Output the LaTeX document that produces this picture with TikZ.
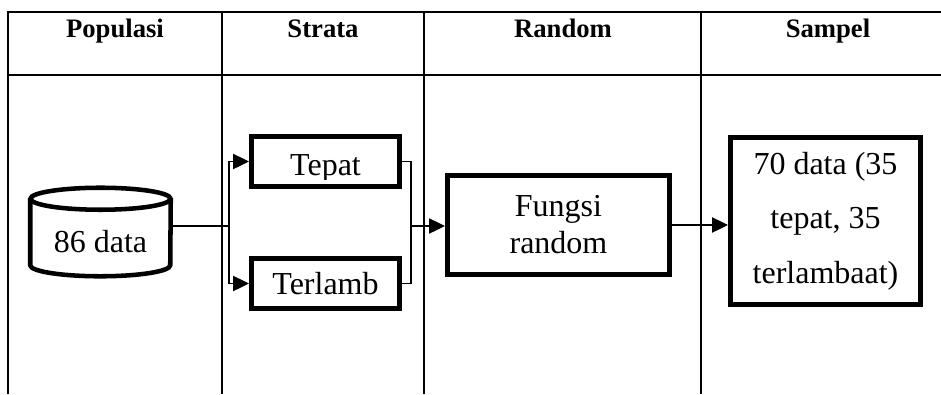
\documentclass[tikz,border=0pt]{standalone}
\usepackage{fontspec}
\setmainfont{Liberation Serif}
\usetikzlibrary{arrows.meta,positioning,calc}

\begin{document}
\begin{tikzpicture}[
    x=0.75pt, y=-0.75pt,
    gridline/.style={line width=1.3pt, black},
    headlbl/.style={font=\bfseries\fontsize{20}{24}\selectfont, anchor=base, inner sep=0pt},
    bodylbl/.style={font=\fontsize{24}{28}\selectfont, anchor=base, inner sep=0pt},
    dbline/.style={line width=3.4pt},
    stratabox/.style={rectangle, draw, line width=3.75pt, font=\fontsize{24}{28}\selectfont,
                      minimum width=111pt, minimum height=37.5pt, inner sep=0pt},
    procbox/.style={rectangle, draw, line width=3.75pt, align=center, inner sep=0pt},
    link/.style={line width=0.9pt},
    >={Triangle[length=12pt,width=11.5pt]}
  ]
    \useasboundingbox (0,0) rectangle (941,394);

    % --- Table grid ---
    \draw[gridline] (8,394) -- (8,12) -- (941,12);
    \draw[gridline] (8,75) -- (941,75);
    \foreach \x in {222,424,701}
      \draw[gridline] (\x,12) -- (\x,394);

    % --- Column heads ---
    \node[headlbl] (hpop)    at (115,37)   {Populasi};
    \node[headlbl] (hstrata) at (323,37)   {Strata};
    \node[headlbl] (hrandom) at (563,37)   {Random};
    \node[headlbl] (hsampel) at (828,37)   {Sampel};

    % --- Populasi (database cylinder) ---
    \node[minimum width=105pt, minimum height=66pt, inner sep=0pt] (pop) at (100.5,232) {};
    \draw[dbline] ($(pop.north west)+(0,11)$) -- ($(pop.south west)+(0,-11)$)
      arc[start angle=180, end angle=0, x radius=70, y radius=11]
      -- ($(pop.north east)+(0,11)$);
    \draw[dbline] ($(pop.north)+(0,11)$) ellipse [x radius=70, y radius=11];
    \node[bodylbl] (poplbl) at (100.5,252) {86 data};

    % --- Strata ---
    \node[stratabox] (tepat) at (325.5,161.5) {};
    \begin{scope}
      \clip (tepat.north west) rectangle ([yshift=7.1pt]tepat.south east);
      \node[bodylbl] (tepatlbl) at (325.5,175) {Tepat};
    \end{scope}
    \node[stratabox] (terlamb) at (325.5,283.5) {Terlamb};

    % --- Random ---
    \node[procbox, minimum width=166.5pt, minimum height=74.25pt,
          font=\fontsize{24}{27.75}\selectfont] (fungsi) at (558.5,225) {Fungsi\\random};

    % --- Sampel ---
    \node[procbox, minimum width=142.5pt, minimum height=125.25pt,
          font=\fontsize{24}{41}\selectfont] (sampel) at (825.5,221)
          {70 data (35\\tepat, 35\\terlambaat)};

    % Arrows
    \coordinate (fork) at (229,226);
    \coordinate (merge) at (411,226);
    \draw[link] (pop.east |- fork) -- (fork);
    \draw[link, ->] (fork) |- (tepat.west);
    \draw[link, ->] (fork) |- (terlamb.west);
    \draw[link] (tepat.east) -| (merge) |- (terlamb.east);
    \draw[link, ->] (merge) -- (merge -| fungsi.west);
    \draw[link, ->] (fungsi.east) -- (fungsi.east -| sampel.west);
  \end{tikzpicture}
\end{document}
